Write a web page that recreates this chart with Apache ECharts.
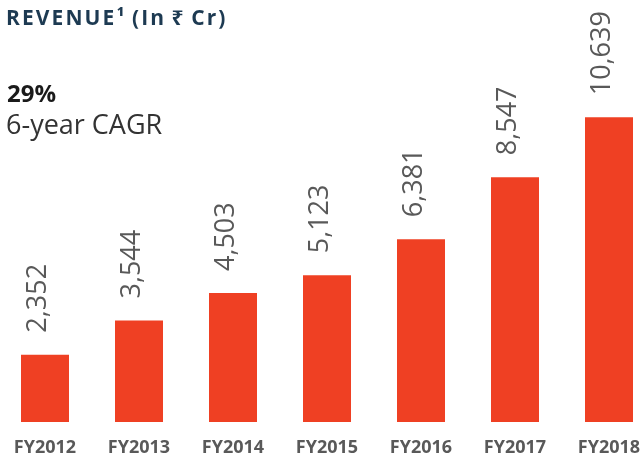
<!DOCTYPE html>
<html>
<head>
<meta charset="utf-8">
<script src="https://cdn.jsdelivr.net/npm/echarts@6/dist/echarts.min.js"></script>
<style>
  html, body { margin: 0; padding: 0; background: #fff; }
  #chart { width: 641px; height: 459px; }
</style>
</head>
<body>
<div id="chart"></div>
<script>
  // 数据
  const years = ['FY2012', 'FY2013', 'FY2014', 'FY2015', 'FY2016', 'FY2017', 'FY2018'];
  const revenue = [2352, 3544, 4503, 5123, 6381, 8547, 10639];
  const titleText = 'REVENUE¹ (In ₹ Cr)';
  const cagrValue = '29%';
  const cagrText = '6-year CAGR';

  const font = '"Open Sans", "Noto Sans", sans-serif';
  const chart = echarts.init(document.getElementById('chart'));

  // 标题字间距: 用细空格模拟 letter-spacing
  const spaced = s => s.split(' ').map(w => w.split('').join('\u200a')).join('\u200a ');

  chart.setOption({
    animation: false,
    backgroundColor: '#fff',
    title: [
      {
        text: spaced(titleText),
        left: 6,
        top: 9,
        padding: 0,
        textStyle: { fontFamily: font, fontSize: 21, fontWeight: 'bold', color: '#1d3a52' }
      },
      {
        text: cagrValue,
        left: 7,
        top: 83,
        padding: 0,
        textStyle: { fontFamily: font, fontSize: 24, fontWeight: 'bold', color: '#1a1a1a' }
      },
      {
        text: cagrText,
        left: 6,
        top: 113,
        padding: 0,
        textStyle: { fontFamily: font, fontSize: 27, fontWeight: 'normal', color: '#333' }
      }
    ],
    grid: {
      left: -2,
      right: -15,
      top: 21,
      bottom: 37,
      outerBoundsMode: 'none'
    },
    xAxis: {
      type: 'category',
      data: years,
      axisLine: { show: false },
      axisTick: { show: false },
      axisLabel: {
        margin: 17,
        fontFamily: font,
        fontSize: 18,
        fontWeight: 'bold',
        color: '#595959'
      }
    },
    yAxis: {
      type: 'value',
      min: 0,
      max: 14000,
      show: false,
      splitLine: { show: false }
    },
    series: [{
      type: 'bar',
      data: revenue,
      barWidth: 48,
      itemStyle: { color: '#ef4023' },
      label: {
        show: true,
        position: 'top',
        rotate: 90,
        align: 'left',
        verticalAlign: 'middle',
        distance: 22,
        offset: [0, -7],
        fontFamily: font,
        fontSize: 27,
        color: '#595959',
        formatter: p => p.value.toLocaleString('en-US')
      }
    }]
  });
</script>
</body>
</html>
